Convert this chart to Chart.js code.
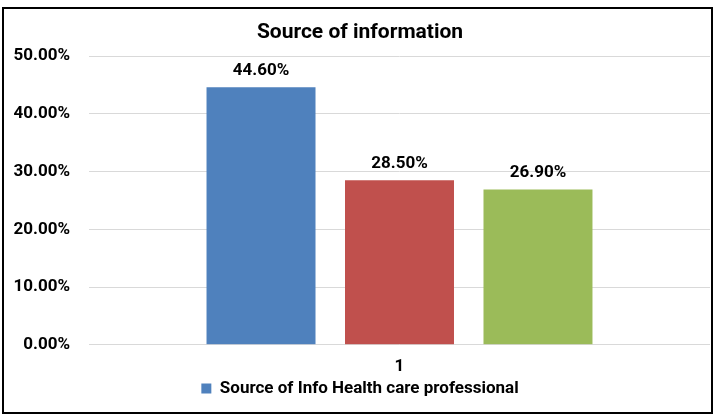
<!DOCTYPE html>
<html>
<head>
<meta charset="utf-8">
<script src="https://cdn.jsdelivr.net/npm/chart.js@4.4.0/dist/chart.umd.min.js"></script>
<style>
  html, body { margin: 0; padding: 0; background: #fff; }
  #wrap { position: relative; width: 715px; height: 420px; }
  #frame { position: absolute; left: 2px; top: 7px; width: 711px; height: 407px;
           border: 2px solid #000; box-sizing: border-box; pointer-events: none; }
</style>
</head>
<body>
<div id="wrap">
  <canvas id="chart" width="715" height="420"></canvas>
  <div id="frame"></div>
</div>
<script>
// データ
var categories = ['1'];
var seriesNames = ['Source of Info Health care professional', 'Series 2', 'Series 3'];
var seriesValues = [[44.6], [28.5], [26.9]];
var seriesColors = ['#4F81BD', '#C0504D', '#9BBB59'];
var yTicks = [0, 10, 20, 30, 40, 50];

var font = "Roboto, 'Liberation Sans', Arial, sans-serif";

// バーの上に値を描く
var valueLabels = {
  id: 'valueLabels',
  afterDatasetsDraw: function(chart) {
    var ctx = chart.ctx;
    ctx.save();
    ctx.font = 'bold 17px ' + font;
    ctx.fillStyle = '#000';
    ctx.textAlign = 'center';
    ctx.textBaseline = 'middle';
    chart.data.datasets.forEach(function(ds, i) {
      chart.getDatasetMeta(i).data.forEach(function(bar, j) {
        ctx.fillText(ds.data[j].toFixed(2) + '%', bar.x, bar.y - 17);
      });
    });
    ctx.restore();
  }
};

var ctx = document.getElementById('chart').getContext('2d');
var myChart = new Chart(ctx, {
  type: 'bar',
  data: {
    labels: categories,
    datasets: seriesValues.map(function(vals, i) {
      return {
        label: seriesNames[i],
        data: vals,
        backgroundColor: seriesColors[i],
        categoryPercentage: 0.669,
        barPercentage: 0.787
      };
    })
  },
  options: {
    responsive: false,
    animation: false,
    layout: { padding: { top: 11, right: 5, bottom: 13, left: 10 } },
    plugins: {
      title: {
        display: true,
        text: 'Source of information',
        color: '#000',
        font: { family: font, size: 21, weight: 'bold' },
        padding: { top: 9, bottom: 11 }
      },
      legend: {
        position: 'bottom',
        labels: {
          filter: function(item) { return item.datasetIndex === 0; },
          color: '#000',
          boxWidth: 10,
          boxHeight: 10,
          padding: 0,
          font: { family: font, size: 17, weight: 'bold' }
        }
      },
      tooltip: { enabled: false }
    },
    scales: {
      x: {
        grid: { display: false },
        border: { display: false },
        ticks: { color: '#000', padding: 6, font: { family: font, size: 17, weight: 'bold', lineHeight: 0.9 } }
      },
      y: {
        min: 0,
        max: 50,
        afterBuildTicks: function(scale) {
          scale.ticks = yTicks.map(function(v) { return { value: v }; });
        },
        afterFit: function(scale) { scale.width = 79; },
        grid: { color: '#d9d9d9', lineWidth: 1, drawTicks: false },
        border: { display: false },
        ticks: {
          color: '#000',
          padding: 19,
          font: { family: font, size: 17, weight: 'bold' },
          callback: function(v) { return v.toFixed(2) + '%'; }
        }
      }
    }
  },
  plugins: [valueLabels]
});
</script>
</body>
</html>
